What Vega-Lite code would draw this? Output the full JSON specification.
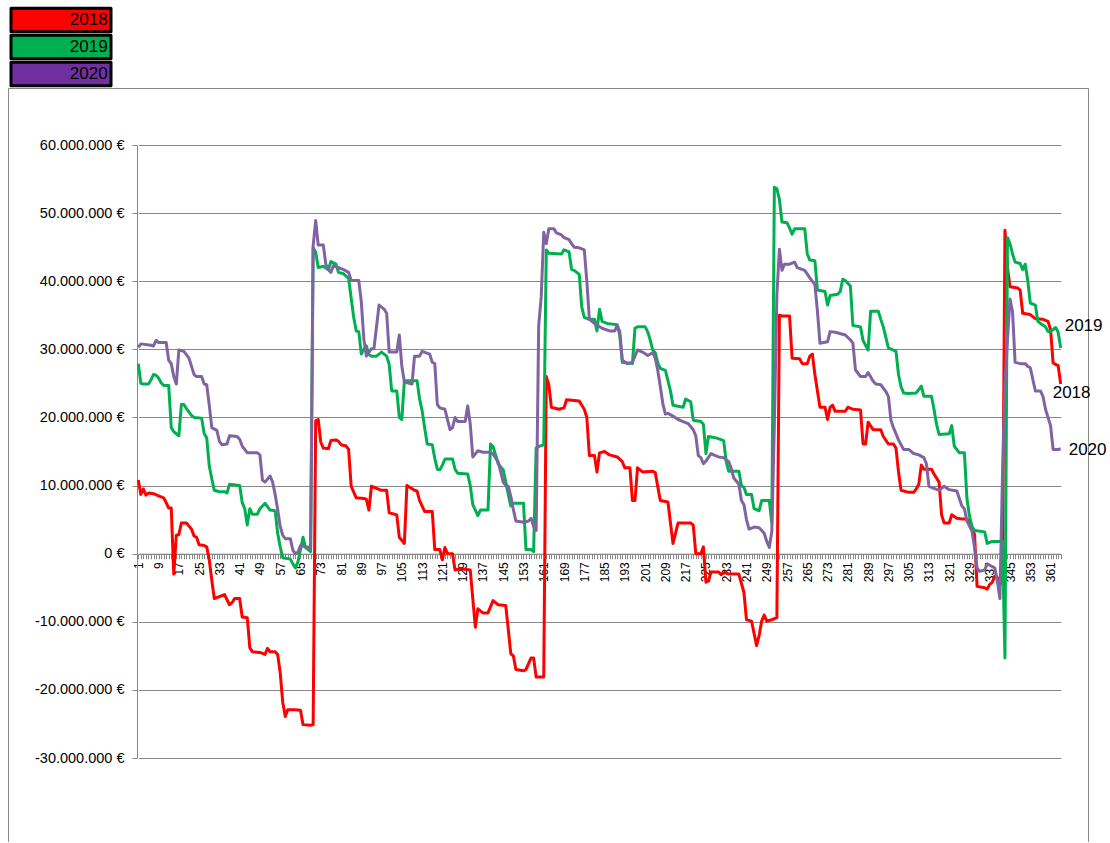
{
"$schema": "https://vega.github.io/schema/vega-lite/v6.json",
"width": 1080, "height": 754,
"autosize": {"type": "none"},
"padding": {"left": 8, "top": 88, "right": 22, "bottom": 0},
"background": "white",
"config": {
 "locale": {"number": {"decimal": ",", "thousands": ".", "grouping": [3], "currency": ["", " €"], "minus": "-"}},
 "view": {"stroke": "#888888", "strokeWidth": 1},
 "font": "Liberation Sans"
},
"data": {"values": [
{"d":1,"s":"2018","v":10.8},{"d":2,"s":"2018","v":8.7},{"d":3,"s":"2018","v":9.5},{"d":4,"s":"2018","v":8.6},{"d":5,"s":"2018","v":8.9},{"d":7,"s":"2018","v":8.8},{"d":9,"s":"2018","v":8.5},{"d":11,"s":"2018","v":8.2},{"d":12,"s":"2018","v":7.5},{"d":13,"s":"2018","v":6.7},{"d":14,"s":"2018","v":6.7},{"d":15,"s":"2018","v":-3.0},{"d":16,"s":"2018","v":2.7},{"d":17,"s":"2018","v":2.8},{"d":18,"s":"2018","v":4.5},{"d":20,"s":"2018","v":4.5},{"d":22,"s":"2018","v":3.6},{"d":23,"s":"2018","v":2.6},{"d":24,"s":"2018","v":2.4},{"d":25,"s":"2018","v":1.3},{"d":27,"s":"2018","v":1.2},{"d":28,"s":"2018","v":1.0},{"d":29,"s":"2018","v":-0.9},{"d":30,"s":"2018","v":-3.9},{"d":31,"s":"2018","v":-6.6},{"d":33,"s":"2018","v":-6.3},{"d":35,"s":"2018","v":-6.0},{"d":37,"s":"2018","v":-7.5},{"d":38,"s":"2018","v":-7.2},{"d":39,"s":"2018","v":-6.6},{"d":41,"s":"2018","v":-6.6},{"d":42,"s":"2018","v":-9.3},{"d":44,"s":"2018","v":-9.4},{"d":45,"s":"2018","v":-13.8},{"d":46,"s":"2018","v":-14.4},{"d":49,"s":"2018","v":-14.5},{"d":51,"s":"2018","v":-14.8},{"d":52,"s":"2018","v":-13.9},{"d":53,"s":"2018","v":-14.4},{"d":55,"s":"2018","v":-14.4},{"d":56,"s":"2018","v":-14.8},{"d":57,"s":"2018","v":-17.5},{"d":58,"s":"2018","v":-21.8},{"d":59,"s":"2018","v":-23.9},{"d":60,"s":"2018","v":-22.9},{"d":63,"s":"2018","v":-22.9},{"d":65,"s":"2018","v":-23.0},{"d":66,"s":"2018","v":-25.1},{"d":69,"s":"2018","v":-25.2},{"d":70,"s":"2018","v":-25.1},{"d":71,"s":"2018","v":19.5},{"d":72,"s":"2018","v":19.7},{"d":73,"s":"2018","v":16.4},{"d":74,"s":"2018","v":15.5},{"d":76,"s":"2018","v":15.4},{"d":77,"s":"2018","v":16.6},{"d":79,"s":"2018","v":16.7},{"d":80,"s":"2018","v":16.5},{"d":81,"s":"2018","v":16.0},{"d":83,"s":"2018","v":15.8},{"d":84,"s":"2018","v":15.3},{"d":85,"s":"2018","v":9.9},{"d":87,"s":"2018","v":8.2},{"d":90,"s":"2018","v":8.1},{"d":91,"s":"2018","v":8.0},{"d":92,"s":"2018","v":6.4},{"d":93,"s":"2018","v":9.9},{"d":95,"s":"2018","v":9.6},{"d":97,"s":"2018","v":9.3},{"d":99,"s":"2018","v":9.3},{"d":100,"s":"2018","v":6.0},{"d":103,"s":"2018","v":5.7},{"d":104,"s":"2018","v":2.4},{"d":106,"s":"2018","v":1.5},{"d":107,"s":"2018","v":10.0},{"d":110,"s":"2018","v":9.3},{"d":111,"s":"2018","v":9.2},{"d":112,"s":"2018","v":7.8},{"d":114,"s":"2018","v":6.2},{"d":117,"s":"2018","v":6.2},{"d":118,"s":"2018","v":0.6},{"d":120,"s":"2018","v":0.6},{"d":121,"s":"2018","v":-0.9},{"d":122,"s":"2018","v":0.9},{"d":123,"s":"2018","v":0.0},{"d":125,"s":"2018","v":0.0},{"d":126,"s":"2018","v":-2.4},{"d":128,"s":"2018","v":-2.2},{"d":132,"s":"2018","v":-2.4},{"d":134,"s":"2018","v":-10.8},{"d":135,"s":"2018","v":-8.1},{"d":137,"s":"2018","v":-8.7},{"d":139,"s":"2018","v":-8.7},{"d":141,"s":"2018","v":-6.9},{"d":143,"s":"2018","v":-7.5},{"d":146,"s":"2018","v":-7.6},{"d":147,"s":"2018","v":-11.1},{"d":148,"s":"2018","v":-14.7},{"d":149,"s":"2018","v":-15.0},{"d":150,"s":"2018","v":-17.0},{"d":153,"s":"2018","v":-17.2},{"d":154,"s":"2018","v":-17.0},{"d":156,"s":"2018","v":-15.3},{"d":157,"s":"2018","v":-15.3},{"d":158,"s":"2018","v":-18.1},{"d":161,"s":"2018","v":-18.1},{"d":162,"s":"2018","v":26.0},{"d":163,"s":"2018","v":24.8},{"d":164,"s":"2018","v":21.5},{"d":167,"s":"2018","v":21.2},{"d":169,"s":"2018","v":21.4},{"d":170,"s":"2018","v":22.6},{"d":175,"s":"2018","v":22.4},{"d":177,"s":"2018","v":21.2},{"d":178,"s":"2018","v":20.0},{"d":179,"s":"2018","v":14.4},{"d":181,"s":"2018","v":14.4},{"d":182,"s":"2018","v":12.0},{"d":183,"s":"2018","v":14.8},{"d":185,"s":"2018","v":15.0},{"d":187,"s":"2018","v":14.5},{"d":190,"s":"2018","v":14.2},{"d":192,"s":"2018","v":13.5},{"d":193,"s":"2018","v":12.6},{"d":195,"s":"2018","v":12.6},{"d":196,"s":"2018","v":7.8},{"d":197,"s":"2018","v":7.8},{"d":198,"s":"2018","v":12.6},{"d":200,"s":"2018","v":12.0},{"d":204,"s":"2018","v":12.1},{"d":205,"s":"2018","v":11.9},{"d":207,"s":"2018","v":7.8},{"d":210,"s":"2018","v":7.6},{"d":212,"s":"2018","v":1.5},{"d":214,"s":"2018","v":4.5},{"d":219,"s":"2018","v":4.5},{"d":220,"s":"2018","v":4.2},{"d":221,"s":"2018","v":0.0},{"d":223,"s":"2018","v":0.0},{"d":224,"s":"2018","v":1.0},{"d":225,"s":"2018","v":-4.2},{"d":226,"s":"2018","v":-4.0},{"d":227,"s":"2018","v":-2.7},{"d":230,"s":"2018","v":-2.7},{"d":231,"s":"2018","v":-3.1},{"d":232,"s":"2018","v":-2.7},{"d":234,"s":"2018","v":-3.0},{"d":238,"s":"2018","v":-3.0},{"d":240,"s":"2018","v":-5.7},{"d":241,"s":"2018","v":-9.7},{"d":243,"s":"2018","v":-9.9},{"d":245,"s":"2018","v":-13.5},{"d":246,"s":"2018","v":-12.0},{"d":247,"s":"2018","v":-9.9},{"d":248,"s":"2018","v":-9.0},{"d":249,"s":"2018","v":-9.9},{"d":251,"s":"2018","v":-9.7},{"d":253,"s":"2018","v":-9.4},{"d":254,"s":"2018","v":35.0},{"d":255,"s":"2018","v":34.9},{"d":258,"s":"2018","v":34.9},{"d":259,"s":"2018","v":28.7},{"d":262,"s":"2018","v":28.6},{"d":263,"s":"2018","v":27.9},{"d":265,"s":"2018","v":27.9},{"d":266,"s":"2018","v":29.0},{"d":267,"s":"2018","v":29.3},{"d":268,"s":"2018","v":26.3},{"d":270,"s":"2018","v":21.5},{"d":272,"s":"2018","v":21.5},{"d":273,"s":"2018","v":19.7},{"d":274,"s":"2018","v":21.5},{"d":275,"s":"2018","v":21.8},{"d":276,"s":"2018","v":20.9},{"d":280,"s":"2018","v":20.9},{"d":281,"s":"2018","v":21.5},{"d":283,"s":"2018","v":21.2},{"d":286,"s":"2018","v":21.1},{"d":287,"s":"2018","v":16.1},{"d":288,"s":"2018","v":16.1},{"d":289,"s":"2018","v":19.3},{"d":291,"s":"2018","v":18.2},{"d":294,"s":"2018","v":18.2},{"d":295,"s":"2018","v":17.2},{"d":297,"s":"2018","v":16.1},{"d":299,"s":"2018","v":16.1},{"d":300,"s":"2018","v":15.5},{"d":301,"s":"2018","v":12.0},{"d":302,"s":"2018","v":9.3},{"d":305,"s":"2018","v":9.0},{"d":307,"s":"2018","v":9.0},{"d":308,"s":"2018","v":9.5},{"d":309,"s":"2018","v":10.2},{"d":310,"s":"2018","v":13.0},{"d":311,"s":"2018","v":12.4},{"d":314,"s":"2018","v":12.4},{"d":315,"s":"2018","v":11.7},{"d":317,"s":"2018","v":10.5},{"d":318,"s":"2018","v":5.7},{"d":319,"s":"2018","v":4.5},{"d":321,"s":"2018","v":4.5},{"d":322,"s":"2018","v":5.7},{"d":324,"s":"2018","v":5.2},{"d":326,"s":"2018","v":5.1},{"d":328,"s":"2018","v":5.1},{"d":330,"s":"2018","v":3.8},{"d":331,"s":"2018","v":2.8},{"d":332,"s":"2018","v":-4.8},{"d":335,"s":"2018","v":-5.0},{"d":336,"s":"2018","v":-5.2},{"d":337,"s":"2018","v":-4.5},{"d":338,"s":"2018","v":-4.2},{"d":339,"s":"2018","v":-3.3},{"d":340,"s":"2018","v":-3.5},{"d":341,"s":"2018","v":-4.5},{"d":342,"s":"2018","v":-4.0},{"d":343,"s":"2018","v":47.5},{"d":344,"s":"2018","v":42.0},{"d":345,"s":"2018","v":39.2},{"d":348,"s":"2018","v":39.0},{"d":349,"s":"2018","v":38.7},{"d":350,"s":"2018","v":35.3},{"d":353,"s":"2018","v":35.1},{"d":355,"s":"2018","v":34.5},{"d":358,"s":"2018","v":34.4},{"d":360,"s":"2018","v":34.1},{"d":361,"s":"2018","v":32.9},{"d":362,"s":"2018","v":28.0},{"d":363,"s":"2018","v":27.8},{"d":364,"s":"2018","v":27.6},{"d":365,"s":"2018","v":24.9},
{"d":1,"s":"2019","v":27.9},{"d":2,"s":"2019","v":25.0},{"d":3,"s":"2019","v":24.9},{"d":5,"s":"2019","v":24.9},{"d":6,"s":"2019","v":25.5},{"d":7,"s":"2019","v":26.3},{"d":8,"s":"2019","v":26.2},{"d":9,"s":"2019","v":25.8},{"d":10,"s":"2019","v":25.1},{"d":11,"s":"2019","v":24.7},{"d":13,"s":"2019","v":24.7},{"d":14,"s":"2019","v":18.5},{"d":15,"s":"2019","v":17.9},{"d":16,"s":"2019","v":17.6},{"d":17,"s":"2019","v":17.3},{"d":18,"s":"2019","v":21.9},{"d":19,"s":"2019","v":21.9},{"d":20,"s":"2019","v":21.3},{"d":22,"s":"2019","v":20.3},{"d":23,"s":"2019","v":20.0},{"d":26,"s":"2019","v":19.9},{"d":27,"s":"2019","v":17.6},{"d":28,"s":"2019","v":17.0},{"d":29,"s":"2019","v":12.9},{"d":30,"s":"2019","v":11.0},{"d":31,"s":"2019","v":9.3},{"d":33,"s":"2019","v":9.1},{"d":35,"s":"2019","v":9.1},{"d":36,"s":"2019","v":8.9},{"d":37,"s":"2019","v":10.2},{"d":41,"s":"2019","v":10.0},{"d":42,"s":"2019","v":7.5},{"d":43,"s":"2019","v":6.6},{"d":44,"s":"2019","v":4.2},{"d":45,"s":"2019","v":6.6},{"d":46,"s":"2019","v":5.8},{"d":48,"s":"2019","v":5.8},{"d":49,"s":"2019","v":6.6},{"d":51,"s":"2019","v":7.4},{"d":53,"s":"2019","v":6.4},{"d":55,"s":"2019","v":6.3},{"d":56,"s":"2019","v":3.0},{"d":57,"s":"2019","v":1.0},{"d":58,"s":"2019","v":-0.6},{"d":61,"s":"2019","v":-0.8},{"d":62,"s":"2019","v":-1.5},{"d":63,"s":"2019","v":-2.1},{"d":64,"s":"2019","v":-1.2},{"d":65,"s":"2019","v":0.6},{"d":66,"s":"2019","v":2.4},{"d":67,"s":"2019","v":0.9},{"d":68,"s":"2019","v":0.6},{"d":69,"s":"2019","v":0.3},{"d":70,"s":"2019","v":44.9},{"d":71,"s":"2019","v":44.3},{"d":72,"s":"2019","v":42.0},{"d":74,"s":"2019","v":42.2},{"d":76,"s":"2019","v":41.7},{"d":77,"s":"2019","v":42.9},{"d":79,"s":"2019","v":42.5},{"d":80,"s":"2019","v":41.3},{"d":82,"s":"2019","v":41.1},{"d":84,"s":"2019","v":40.4},{"d":86,"s":"2019","v":34.7},{"d":87,"s":"2019","v":32.7},{"d":88,"s":"2019","v":32.6},{"d":89,"s":"2019","v":29.3},{"d":90,"s":"2019","v":30.0},{"d":91,"s":"2019","v":30.5},{"d":92,"s":"2019","v":29.2},{"d":93,"s":"2019","v":29.0},{"d":95,"s":"2019","v":29.0},{"d":97,"s":"2019","v":29.6},{"d":99,"s":"2019","v":29.0},{"d":100,"s":"2019","v":27.8},{"d":101,"s":"2019","v":23.9},{"d":103,"s":"2019","v":23.9},{"d":104,"s":"2019","v":20.0},{"d":105,"s":"2019","v":19.7},{"d":106,"s":"2019","v":25.4},{"d":111,"s":"2019","v":25.4},{"d":112,"s":"2019","v":22.7},{"d":113,"s":"2019","v":21.0},{"d":114,"s":"2019","v":18.5},{"d":115,"s":"2019","v":16.1},{"d":117,"s":"2019","v":16.0},{"d":118,"s":"2019","v":14.0},{"d":119,"s":"2019","v":12.4},{"d":120,"s":"2019","v":12.3},{"d":121,"s":"2019","v":13.0},{"d":122,"s":"2019","v":13.9},{"d":125,"s":"2019","v":13.9},{"d":126,"s":"2019","v":12.4},{"d":127,"s":"2019","v":11.8},{"d":131,"s":"2019","v":11.7},{"d":132,"s":"2019","v":10.0},{"d":133,"s":"2019","v":7.2},{"d":135,"s":"2019","v":5.6},{"d":136,"s":"2019","v":6.4},{"d":139,"s":"2019","v":6.4},{"d":140,"s":"2019","v":16.1},{"d":141,"s":"2019","v":15.7},{"d":142,"s":"2019","v":14.5},{"d":143,"s":"2019","v":13.2},{"d":145,"s":"2019","v":12.3},{"d":146,"s":"2019","v":10.5},{"d":147,"s":"2019","v":8.7},{"d":148,"s":"2019","v":7.0},{"d":149,"s":"2019","v":7.4},{"d":153,"s":"2019","v":7.4},{"d":154,"s":"2019","v":0.6},{"d":156,"s":"2019","v":0.6},{"d":157,"s":"2019","v":0.3},{"d":158,"s":"2019","v":15.5},{"d":159,"s":"2019","v":15.7},{"d":161,"s":"2019","v":16.0},{"d":162,"s":"2019","v":44.6},{"d":163,"s":"2019","v":44.1},{"d":168,"s":"2019","v":44.0},{"d":169,"s":"2019","v":44.6},{"d":171,"s":"2019","v":44.3},{"d":172,"s":"2019","v":41.7},{"d":173,"s":"2019","v":41.6},{"d":175,"s":"2019","v":41.0},{"d":176,"s":"2019","v":36.2},{"d":177,"s":"2019","v":34.7},{"d":179,"s":"2019","v":34.4},{"d":181,"s":"2019","v":34.4},{"d":182,"s":"2019","v":32.7},{"d":183,"s":"2019","v":35.9},{"d":184,"s":"2019","v":34.1},{"d":186,"s":"2019","v":33.8},{"d":188,"s":"2019","v":33.7},{"d":190,"s":"2019","v":33.6},{"d":191,"s":"2019","v":32.0},{"d":192,"s":"2019","v":28.1},{"d":196,"s":"2019","v":27.9},{"d":197,"s":"2019","v":33.1},{"d":198,"s":"2019","v":33.3},{"d":201,"s":"2019","v":33.3},{"d":202,"s":"2019","v":32.6},{"d":203,"s":"2019","v":31.4},{"d":204,"s":"2019","v":29.9},{"d":205,"s":"2019","v":29.5},{"d":206,"s":"2019","v":28.0},{"d":207,"s":"2019","v":27.2},{"d":209,"s":"2019","v":26.9},{"d":210,"s":"2019","v":25.4},{"d":211,"s":"2019","v":23.9},{"d":212,"s":"2019","v":21.8},{"d":216,"s":"2019","v":21.5},{"d":217,"s":"2019","v":22.7},{"d":219,"s":"2019","v":22.3},{"d":220,"s":"2019","v":19.6},{"d":223,"s":"2019","v":19.4},{"d":224,"s":"2019","v":19.0},{"d":225,"s":"2019","v":14.7},{"d":226,"s":"2019","v":17.2},{"d":229,"s":"2019","v":17.0},{"d":232,"s":"2019","v":16.6},{"d":233,"s":"2019","v":13.5},{"d":234,"s":"2019","v":12.1},{"d":238,"s":"2019","v":12.1},{"d":239,"s":"2019","v":10.0},{"d":240,"s":"2019","v":9.7},{"d":241,"s":"2019","v":8.7},{"d":243,"s":"2019","v":8.7},{"d":244,"s":"2019","v":6.6},{"d":246,"s":"2019","v":6.3},{"d":247,"s":"2019","v":7.8},{"d":250,"s":"2019","v":7.8},{"d":251,"s":"2019","v":4.5},{"d":252,"s":"2019","v":53.8},{"d":253,"s":"2019","v":53.6},{"d":254,"s":"2019","v":52.0},{"d":255,"s":"2019","v":48.7},{"d":257,"s":"2019","v":48.6},{"d":258,"s":"2019","v":47.8},{"d":259,"s":"2019","v":46.9},{"d":260,"s":"2019","v":47.7},{"d":264,"s":"2019","v":47.7},{"d":265,"s":"2019","v":44.0},{"d":266,"s":"2019","v":43.1},{"d":268,"s":"2019","v":43.0},{"d":269,"s":"2019","v":38.7},{"d":272,"s":"2019","v":38.5},{"d":273,"s":"2019","v":36.5},{"d":274,"s":"2019","v":37.9},{"d":277,"s":"2019","v":38.1},{"d":278,"s":"2019","v":38.5},{"d":279,"s":"2019","v":40.3},{"d":280,"s":"2019","v":40.1},{"d":282,"s":"2019","v":39.3},{"d":283,"s":"2019","v":33.5},{"d":286,"s":"2019","v":33.3},{"d":287,"s":"2019","v":31.3},{"d":289,"s":"2019","v":29.9},{"d":290,"s":"2019","v":35.6},{"d":293,"s":"2019","v":35.6},{"d":294,"s":"2019","v":34.4},{"d":295,"s":"2019","v":33.3},{"d":297,"s":"2019","v":30.2},{"d":300,"s":"2019","v":29.7},{"d":301,"s":"2019","v":26.3},{"d":302,"s":"2019","v":24.5},{"d":303,"s":"2019","v":23.6},{"d":305,"s":"2019","v":23.5},{"d":308,"s":"2019","v":23.6},{"d":310,"s":"2019","v":24.6},{"d":311,"s":"2019","v":23.1},{"d":314,"s":"2019","v":23.1},{"d":315,"s":"2019","v":21.2},{"d":316,"s":"2019","v":19.0},{"d":317,"s":"2019","v":17.5},{"d":321,"s":"2019","v":17.6},{"d":322,"s":"2019","v":18.8},{"d":323,"s":"2019","v":15.8},{"d":325,"s":"2019","v":14.8},{"d":327,"s":"2019","v":14.8},{"d":328,"s":"2019","v":8.1},{"d":329,"s":"2019","v":5.5},{"d":330,"s":"2019","v":4.0},{"d":331,"s":"2019","v":3.4},{"d":335,"s":"2019","v":3.2},{"d":336,"s":"2019","v":1.5},{"d":338,"s":"2019","v":1.8},{"d":342,"s":"2019","v":1.8},{"d":343,"s":"2019","v":-15.3},{"d":344,"s":"2019","v":46.4},{"d":345,"s":"2019","v":45.5},{"d":346,"s":"2019","v":44.0},{"d":347,"s":"2019","v":42.8},{"d":349,"s":"2019","v":42.6},{"d":350,"s":"2019","v":41.7},{"d":351,"s":"2019","v":42.5},{"d":352,"s":"2019","v":40.1},{"d":353,"s":"2019","v":36.8},{"d":355,"s":"2019","v":36.5},{"d":356,"s":"2019","v":34.1},{"d":357,"s":"2019","v":33.8},{"d":359,"s":"2019","v":33.3},{"d":360,"s":"2019","v":32.6},{"d":361,"s":"2019","v":32.6},{"d":363,"s":"2019","v":33.2},{"d":364,"s":"2019","v":32.5},{"d":365,"s":"2019","v":30.2},
{"d":1,"s":"2020","v":30.3},{"d":2,"s":"2020","v":30.8},{"d":6,"s":"2020","v":30.6},{"d":7,"s":"2020","v":30.5},{"d":8,"s":"2020","v":31.3},{"d":9,"s":"2020","v":31.0},{"d":12,"s":"2020","v":31.0},{"d":13,"s":"2020","v":28.4},{"d":14,"s":"2020","v":27.9},{"d":15,"s":"2020","v":26.0},{"d":16,"s":"2020","v":24.9},{"d":17,"s":"2020","v":29.9},{"d":19,"s":"2020","v":29.7},{"d":21,"s":"2020","v":28.7},{"d":22,"s":"2020","v":27.5},{"d":23,"s":"2020","v":26.3},{"d":24,"s":"2020","v":26.0},{"d":26,"s":"2020","v":26.0},{"d":27,"s":"2020","v":24.9},{"d":28,"s":"2020","v":24.8},{"d":29,"s":"2020","v":21.8},{"d":30,"s":"2020","v":18.5},{"d":32,"s":"2020","v":18.1},{"d":33,"s":"2020","v":16.5},{"d":34,"s":"2020","v":16.0},{"d":36,"s":"2020","v":16.1},{"d":37,"s":"2020","v":17.3},{"d":40,"s":"2020","v":17.2},{"d":41,"s":"2020","v":16.8},{"d":42,"s":"2020","v":15.8},{"d":43,"s":"2020","v":15.3},{"d":44,"s":"2020","v":14.8},{"d":48,"s":"2020","v":14.8},{"d":49,"s":"2020","v":14.5},{"d":50,"s":"2020","v":10.8},{"d":51,"s":"2020","v":10.5},{"d":53,"s":"2020","v":11.4},{"d":54,"s":"2020","v":10.5},{"d":55,"s":"2020","v":8.7},{"d":56,"s":"2020","v":6.5},{"d":57,"s":"2020","v":4.0},{"d":58,"s":"2020","v":2.7},{"d":59,"s":"2020","v":2.2},{"d":61,"s":"2020","v":2.2},{"d":62,"s":"2020","v":0.5},{"d":63,"s":"2020","v":0.0},{"d":64,"s":"2020","v":0.2},{"d":65,"s":"2020","v":1.2},{"d":67,"s":"2020","v":1.0},{"d":69,"s":"2020","v":0.9},{"d":70,"s":"2020","v":45.2},{"d":71,"s":"2020","v":48.9},{"d":72,"s":"2020","v":45.3},{"d":74,"s":"2020","v":45.3},{"d":75,"s":"2020","v":42.5},{"d":76,"s":"2020","v":41.7},{"d":77,"s":"2020","v":41.3},{"d":78,"s":"2020","v":42.3},{"d":80,"s":"2020","v":42.0},{"d":82,"s":"2020","v":41.7},{"d":84,"s":"2020","v":41.3},{"d":85,"s":"2020","v":40.1},{"d":88,"s":"2020","v":40.1},{"d":89,"s":"2020","v":37.0},{"d":90,"s":"2020","v":31.5},{"d":91,"s":"2020","v":29.0},{"d":93,"s":"2020","v":30.1},{"d":94,"s":"2020","v":30.1},{"d":96,"s":"2020","v":36.5},{"d":98,"s":"2020","v":35.9},{"d":99,"s":"2020","v":35.3},{"d":100,"s":"2020","v":29.6},{"d":103,"s":"2020","v":29.6},{"d":104,"s":"2020","v":32.1},{"d":105,"s":"2020","v":27.5},{"d":106,"s":"2020","v":25.2},{"d":109,"s":"2020","v":24.9},{"d":110,"s":"2020","v":29.0},{"d":112,"s":"2020","v":29.0},{"d":113,"s":"2020","v":29.7},{"d":116,"s":"2020","v":29.3},{"d":117,"s":"2020","v":28.1},{"d":118,"s":"2020","v":27.9},{"d":119,"s":"2020","v":21.9},{"d":120,"s":"2020","v":21.4},{"d":122,"s":"2020","v":21.2},{"d":124,"s":"2020","v":18.2},{"d":125,"s":"2020","v":18.5},{"d":126,"s":"2020","v":20.0},{"d":127,"s":"2020","v":19.4},{"d":130,"s":"2020","v":19.4},{"d":131,"s":"2020","v":21.7},{"d":132,"s":"2020","v":19.0},{"d":133,"s":"2020","v":14.2},{"d":135,"s":"2020","v":15.1},{"d":137,"s":"2020","v":14.9},{"d":140,"s":"2020","v":14.9},{"d":141,"s":"2020","v":14.6},{"d":143,"s":"2020","v":13.5},{"d":144,"s":"2020","v":12.0},{"d":145,"s":"2020","v":10.5},{"d":146,"s":"2020","v":10.0},{"d":147,"s":"2020","v":9.9},{"d":148,"s":"2020","v":8.4},{"d":149,"s":"2020","v":6.5},{"d":150,"s":"2020","v":4.8},{"d":153,"s":"2020","v":4.6},{"d":155,"s":"2020","v":4.8},{"d":156,"s":"2020","v":5.2},{"d":157,"s":"2020","v":4.0},{"d":158,"s":"2020","v":3.4},{"d":159,"s":"2020","v":33.5},{"d":160,"s":"2020","v":37.7},{"d":161,"s":"2020","v":47.2},{"d":162,"s":"2020","v":45.5},{"d":163,"s":"2020","v":47.7},{"d":165,"s":"2020","v":47.7},{"d":166,"s":"2020","v":47.1},{"d":168,"s":"2020","v":46.8},{"d":169,"s":"2020","v":46.4},{"d":171,"s":"2020","v":46.1},{"d":172,"s":"2020","v":45.5},{"d":173,"s":"2020","v":45.0},{"d":175,"s":"2020","v":44.9},{"d":177,"s":"2020","v":44.6},{"d":178,"s":"2020","v":40.0},{"d":179,"s":"2020","v":34.4},{"d":181,"s":"2020","v":33.8},{"d":184,"s":"2020","v":33.1},{"d":187,"s":"2020","v":32.7},{"d":189,"s":"2020","v":32.7},{"d":190,"s":"2020","v":33.5},{"d":191,"s":"2020","v":32.6},{"d":192,"s":"2020","v":28.4},{"d":194,"s":"2020","v":27.9},{"d":196,"s":"2020","v":28.1},{"d":198,"s":"2020","v":29.9},{"d":200,"s":"2020","v":29.6},{"d":202,"s":"2020","v":29.1},{"d":204,"s":"2020","v":29.5},{"d":205,"s":"2020","v":28.7},{"d":206,"s":"2020","v":26.9},{"d":207,"s":"2020","v":24.5},{"d":208,"s":"2020","v":22.0},{"d":209,"s":"2020","v":20.5},{"d":210,"s":"2020","v":20.6},{"d":212,"s":"2020","v":20.2},{"d":214,"s":"2020","v":19.7},{"d":216,"s":"2020","v":19.4},{"d":218,"s":"2020","v":19.1},{"d":220,"s":"2020","v":18.2},{"d":221,"s":"2020","v":17.3},{"d":222,"s":"2020","v":14.4},{"d":223,"s":"2020","v":14.1},{"d":224,"s":"2020","v":13.2},{"d":225,"s":"2020","v":13.6},{"d":227,"s":"2020","v":14.7},{"d":228,"s":"2020","v":14.5},{"d":230,"s":"2020","v":14.2},{"d":232,"s":"2020","v":14.1},{"d":234,"s":"2020","v":13.5},{"d":235,"s":"2020","v":12.5},{"d":236,"s":"2020","v":11.1},{"d":238,"s":"2020","v":10.2},{"d":239,"s":"2020","v":7.8},{"d":240,"s":"2020","v":7.2},{"d":241,"s":"2020","v":5.0},{"d":242,"s":"2020","v":3.6},{"d":244,"s":"2020","v":3.9},{"d":246,"s":"2020","v":3.8},{"d":248,"s":"2020","v":3.0},{"d":249,"s":"2020","v":1.8},{"d":250,"s":"2020","v":0.9},{"d":251,"s":"2020","v":3.3},{"d":252,"s":"2020","v":18.8},{"d":253,"s":"2020","v":38.0},{"d":254,"s":"2020","v":44.7},{"d":255,"s":"2020","v":41.6},{"d":256,"s":"2020","v":42.5},{"d":258,"s":"2020","v":42.5},{"d":260,"s":"2020","v":42.8},{"d":261,"s":"2020","v":42.0},{"d":264,"s":"2020","v":41.6},{"d":266,"s":"2020","v":40.5},{"d":268,"s":"2020","v":39.5},{"d":269,"s":"2020","v":35.6},{"d":270,"s":"2020","v":30.9},{"d":273,"s":"2020","v":31.1},{"d":274,"s":"2020","v":32.6},{"d":276,"s":"2020","v":32.5},{"d":280,"s":"2020","v":32.1},{"d":282,"s":"2020","v":31.4},{"d":283,"s":"2020","v":30.9},{"d":284,"s":"2020","v":27.0},{"d":286,"s":"2020","v":26.0},{"d":288,"s":"2020","v":26.0},{"d":289,"s":"2020","v":26.6},{"d":291,"s":"2020","v":25.3},{"d":292,"s":"2020","v":24.9},{"d":294,"s":"2020","v":24.8},{"d":296,"s":"2020","v":23.8},{"d":297,"s":"2020","v":23.1},{"d":298,"s":"2020","v":19.6},{"d":299,"s":"2020","v":18.5},{"d":301,"s":"2020","v":16.7},{"d":303,"s":"2020","v":15.3},{"d":305,"s":"2020","v":15.3},{"d":307,"s":"2020","v":14.7},{"d":309,"s":"2020","v":14.5},{"d":311,"s":"2020","v":14.1},{"d":312,"s":"2020","v":13.2},{"d":313,"s":"2020","v":9.9},{"d":315,"s":"2020","v":9.6},{"d":317,"s":"2020","v":9.3},{"d":319,"s":"2020","v":9.9},{"d":321,"s":"2020","v":9.4},{"d":324,"s":"2020","v":9.2},{"d":326,"s":"2020","v":7.0},{"d":327,"s":"2020","v":6.6},{"d":328,"s":"2020","v":4.8},{"d":330,"s":"2020","v":3.3},{"d":331,"s":"2020","v":0.9},{"d":332,"s":"2020","v":-2.1},{"d":333,"s":"2020","v":-2.6},{"d":335,"s":"2020","v":-2.4},{"d":336,"s":"2020","v":-1.5},{"d":337,"s":"2020","v":-1.7},{"d":339,"s":"2020","v":-2.1},{"d":340,"s":"2020","v":-4.0},{"d":341,"s":"2020","v":-6.6},{"d":342,"s":"2020","v":11.1},{"d":343,"s":"2020","v":24.8},{"d":344,"s":"2020","v":31.5},{"d":345,"s":"2020","v":37.4},{"d":346,"s":"2020","v":35.5},{"d":347,"s":"2020","v":28.1},{"d":349,"s":"2020","v":27.9},{"d":351,"s":"2020","v":27.9},{"d":352,"s":"2020","v":27.5},{"d":353,"s":"2020","v":27.3},{"d":355,"s":"2020","v":23.9},{"d":357,"s":"2020","v":23.9},{"d":358,"s":"2020","v":23.1},{"d":359,"s":"2020","v":21.2},{"d":361,"s":"2020","v":18.8},{"d":362,"s":"2020","v":15.3},{"d":364,"s":"2020","v":15.3},{"d":365,"s":"2020","v":15.4}
]},
"layer": [
 {
  "mark": {"type": "line", "strokeWidth": 3, "strokeJoin": "round"},
  "encoding": {
   "x": {"field": "d", "type": "quantitative",
     "scale": {"domain": [1, 365], "range": [130.3, 1052.7], "nice": false, "zero": false},
     "axis": {"orient": "bottom", "offset": -288.3, "tickCount": 365, "title": null, "grid": false,
       "labelExpr": "(datum.value - 1) % 8 == 0 ? '' + datum.value : ''",
       "labelAngle": -90, "labelAlign": "right", "labelBaseline": "middle", "labelPadding": 3,
       "labelFontSize": 12, "labelColor": "#000000", "labelOverlap": false, "labelBound": false, "labelFlush": false,
       "domainColor": "#888888", "tickColor": "#888888", "tickSize": 5, "tickWidth": 1}},
   "y": {"field": "v", "type": "quantitative",
     "scale": {"domain": [-30, 60], "range": [670, 57], "nice": false, "zero": false},
     "axis": {"orient": "left", "offset": -129, "values": [-30, -20, -10, 0, 10, 20, 30, 40, 50, 60], "title": null,
       "labelExpr": "format(datum.value * 1000000, '$,.0f')",
       "grid": true, "gridColor": "#888888", "gridWidth": 1,
       "domainColor": "#888888", "tickColor": "#888888", "tickSize": 5,
       "labelFontSize": 14.5, "labelColor": "#000000", "labelPadding": 8}},
   "stroke": {"field": "s", "type": "nominal",
     "scale": {"domain": ["2018", "2019", "2020"], "range": ["#FF0000", "#00B050", "#8064A2"]},
     "legend": null}
  }
 },
 {
  "transform": [{"filter": "datum.d == 1"}],
  "mark": {"type": "point", "filled": true, "opacity": 0},
  "encoding": {
   "x": {"field": "d", "type": "quantitative"},
   "y": {"field": "v", "type": "quantitative"},
   "fill": {"field": "s", "type": "nominal",
     "scale": {"range": ["#FF0000", "#00B050", "#7030A0"]},
     "legend": {"orient": "none", "legendX": 44.5, "legendY": -76.5, "title": null, "padding": 0,
       "symbolType": "M-7.1429,-1.6667H7.1429V1.6667H-7.1429Z", "symbolSize": 196, "symbolStrokeWidth": 3, "symbolStrokeColor": "#000000",
       "symbolOpacity": 1, "symbolOffset": 0, "labelAlign": "right", "labelOffset": 38.2, "labelFontSize": 17, "labelColor": "#000000",
       "rowPadding": 0,
       "encode": {"symbols": {"update": {
         "stroke": {"signal": "'#000000'"}, "strokeWidth": {"value": 3}, "strokeJoin": {"value": "round"}, "opacity": {"value": 1}}}}}}
  }
 },
 {
  "transform": [{"filter": "datum.d == 365 && datum.s == '2019'"}],
  "mark": {"type": "text", "align": "left", "baseline": "middle", "dx": 4, "dy": -22, "fontSize": 17, "color": "#000000"},
  "encoding": {"x": {"field": "d", "type": "quantitative"}, "y": {"field": "v", "type": "quantitative"}, "text": {"field": "s"}}
 },
 {
  "transform": [{"filter": "datum.d == 365 && datum.s == '2018'"}],
  "mark": {"type": "text", "align": "left", "baseline": "middle", "dx": -8, "dy": 9, "fontSize": 17, "color": "#000000"},
  "encoding": {"x": {"field": "d", "type": "quantitative"}, "y": {"field": "v", "type": "quantitative"}, "text": {"field": "s"}}
 },
 {
  "transform": [{"filter": "datum.d == 365 && datum.s == '2020'"}],
  "mark": {"type": "text", "align": "left", "baseline": "middle", "dx": 8, "dy": 1, "fontSize": 17, "color": "#000000"},
  "encoding": {"x": {"field": "d", "type": "quantitative"}, "y": {"field": "v", "type": "quantitative"}, "text": {"field": "s"}}
 }
]
}
